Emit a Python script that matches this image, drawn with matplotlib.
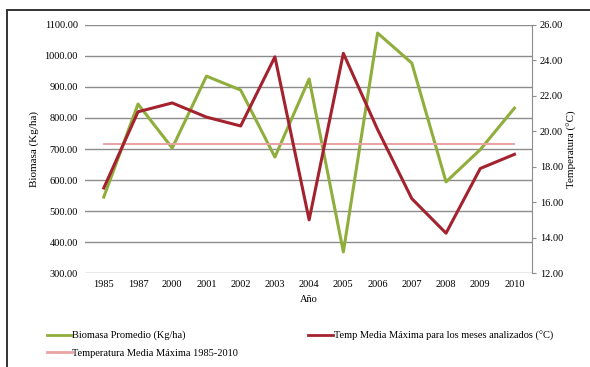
import matplotlib.pyplot as plt
from matplotlib.lines import Line2D
from matplotlib.patches import Rectangle

years = ["1985", "1987", "2000", "2001", "2002", "2003", "2004",
         "2005", "2006", "2007", "2008", "2009", "2010"]
biomasa = [545, 845, 703, 935, 890, 674, 926, 368, 1074, 977, 594, 698, 832]
temp_max = [16.8, 21.1, 21.6, 20.8, 20.3, 24.2, 15.0, 24.4, 20.1, 16.2, 14.25, 17.9, 18.7]
temp_media_1985_2010 = 19.3

left_ticks = [300, 400, 500, 600, 700, 800, 900, 1000, 1100]
right_ticks = [12, 14, 16, 18, 20, 22, 24, 26]

GREEN = "#8fae3c"
RED = "#a3222e"
PINK = "#e9a3a3"
FS = 7.5

plt.rcParams["font.family"] = ["Liberation Serif", "DejaVu Serif"]

fig = plt.figure(figsize=(5.9, 3.67), dpi=100)
ax = fig.add_axes([0.144, 0.256, 0.757, 0.676])
ax2 = ax.twinx()

x = list(range(len(years)))

ax.plot(x, biomasa, color=GREEN, lw=2.2, zorder=3)
ax2.plot(x, temp_max, color=RED, lw=2.2, zorder=3)
ax2.plot([x[0], x[-1]], [temp_media_1985_2010] * 2, color=PINK, lw=1.4, zorder=2)

ax.set_ylim(300, 1100)
ax.set_yticks(left_ticks)
ax.set_yticklabels([f"{v:.2f}" for v in left_ticks], fontsize=FS)
ax.yaxis.grid(True, color="#8c8c8c", lw=1.0)
ax.set_axisbelow(True)
ax.set_xlim(-0.55, len(years) - 0.5)
ax.set_xticks(x)
ax.set_xticklabels(years, fontsize=FS)
ax.tick_params(axis="both", length=0, pad=5)
ax.set_xlabel("Año", fontsize=FS, labelpad=4)
ax.set_ylabel("Biomasa (Kg/ha)", fontsize=8, labelpad=4)

ax2.set_ylim(12, 26)
ax2.set_yticks(right_ticks)
ax2.set_yticklabels([f"{v:.2f}" for v in right_ticks], fontsize=FS)
ax2.tick_params(axis="y", length=3, color="#8c8c8c", pad=3)
ax2.set_ylabel("Temperatura (°C)", fontsize=8, labelpad=3)

for a in (ax, ax2):
    for side in ("top", "left", "bottom"):
        a.spines[side].set_visible(False)
    a.spines["right"].set_visible(a is ax2)
ax2.spines["right"].set_color("#8c8c8c")

handles1 = [Line2D([], [], color=GREEN, lw=2),
            Line2D([], [], color=PINK, lw=2)]
labels1 = ["Biomasa Promedio (Kg/ha)", "Temperatura Media Máxima 1985-2010"]
fig.legend(handles1, labels1, loc="upper left", bbox_to_anchor=(0.072, 0.11),
           frameon=False, fontsize=FS, handlelength=2.4, handletextpad=0.05,
           labelspacing=0.75, borderaxespad=0)
fig.legend([Line2D([], [], color=RED, lw=2)],
           ["Temp Media Máxima para los meses analizados (°C)"],
           loc="upper left", bbox_to_anchor=(0.515, 0.11), frameon=False,
           fontsize=FS, handlelength=2.4, handletextpad=0.05, borderaxespad=0)

# outer frame
fig.patches.append(Rectangle((7 / 590, -0.02), 1.0, 1 - 10 / 367 + 0.02,
                             transform=fig.transFigure, fill=False,
                             edgecolor="#333333", lw=1.4))

fig.savefig("out.png", dpi=100)
